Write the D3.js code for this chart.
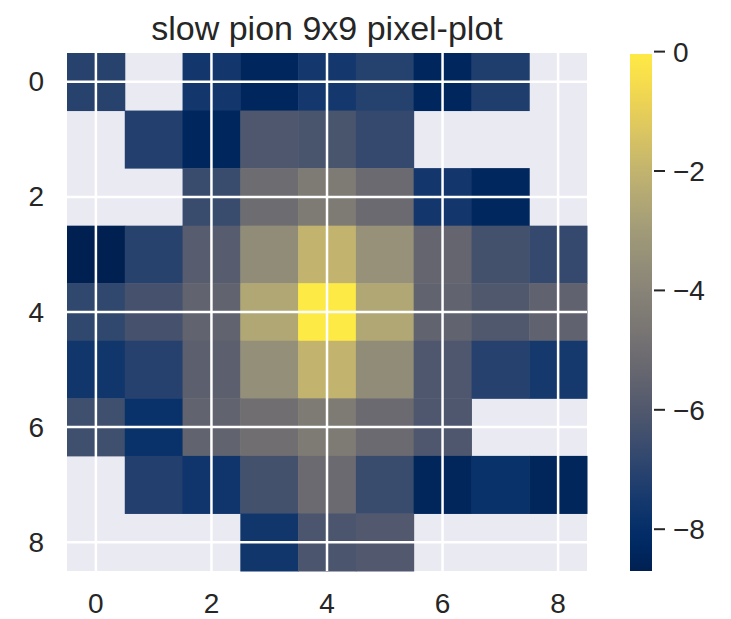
<!DOCTYPE html>
<html>
<head>
<meta charset="utf-8">
<script src="https://cdn.jsdelivr.net/npm/d3@7"></script>
<style>
  body { margin: 0; background: #fff; }
  text { font-family: "Liberation Sans", Arial, sans-serif; fill: #262626; }
</style>
</head>
<body>
<svg id="chart" width="731" height="619"></svg>
<script>
// log-scaled pixel values, null = empty pixel
var NaN_ = null;
var row0 = [-7.04, NaN_, -7.57, -8.40, -7.55, -7.12, -8.40, -7.25, NaN_];
var row1 = [NaN_, -7.19, -8.40, -6.06, -6.20, -6.71, NaN_, NaN_, NaN_];
var row2 = [NaN_, NaN_, -6.60, -5.08, -4.44, -5.17, -7.57, -8.38, NaN_];
var row3 = [-8.70, -7.04, -5.82, -3.64, -2.00, -3.43, -5.39, -6.34, -6.71];
var row4 = [-6.83, -6.28, -5.50, -2.52, -0.04, -2.52, -5.50, -6.00, -5.54];
var row5 = [-7.64, -7.09, -5.69, -3.50, -2.00, -3.64, -6.07, -7.09, -7.52];
var row6 = [-6.46, -7.85, -5.50, -4.98, -4.44, -5.17, -6.07, NaN_, NaN_];
var row7 = [NaN_, -7.19, -7.67, -6.36, -5.17, -6.58, -8.44, -7.83, -8.44];
var row8 = [NaN_, NaN_, NaN_, -7.64, -6.14, -5.96, NaN_, NaN_, NaN_];
var rows = [row0, row1, row2, row3, row4, row5, row6, row7, row8];

var pixelIdx = [0, 1, 2, 3, 4, 5, 6, 7, 8];
var axisTicks = [0, 2, 4, 6, 8];
var cbarTicks = [0, -2, -4, -6, -8];
var cbarRange = [-8.70, -0.04];
var title = "slow pion 9x9 pixel-plot";

var svg = d3.select("#chart");

var plot = {left: 67, top: 53, width: 520, height: 518};
var cbar = {left: 630, top: 54, width: 22, height: 517};

var x = d3.scaleBand().domain(pixelIdx).range([plot.left, plot.left + plot.width]).padding(0);
var y = d3.scaleBand().domain(pixelIdx).range([plot.top, plot.top + plot.height]).padding(0);
var color = d3.scaleSequential(d3.interpolateCividis).domain(cbarRange);

// axes background
svg.append("rect")
  .attr("x", plot.left).attr("y", plot.top)
  .attr("width", plot.width).attr("height", plot.height)
  .attr("fill", "#eaeaf2");

var cells = [];
rows.forEach(function(r, i) {
  r.forEach(function(v, j) { if (v !== null) cells.push({row: i, col: j, v: v}); });
});

svg.append("g")
  .selectAll("rect")
  .data(cells)
  .enter()
  .append("rect")
  .attr("x", d => x(d.col))
  .attr("y", d => y(d.row))
  .attr("width", x.bandwidth() + 0.5)
  .attr("height", y.bandwidth() + 0.5)
  .attr("fill", d => color(d.v));

// white grid lines through even pixel centres
var grid = svg.append("g").attr("stroke", "#fff").attr("stroke-width", 2.5);
grid.selectAll("line.v")
  .data(axisTicks).enter().append("line").attr("class", "v")
  .attr("x1", d => x(d) + x.bandwidth() / 2).attr("x2", d => x(d) + x.bandwidth() / 2)
  .attr("y1", plot.top).attr("y2", plot.top + plot.height);
grid.selectAll("line.h")
  .data(axisTicks).enter().append("line").attr("class", "h")
  .attr("y1", d => y(d) + y.bandwidth() / 2).attr("y2", d => y(d) + y.bandwidth() / 2)
  .attr("x1", plot.left).attr("x2", plot.left + plot.width);

// tick labels
svg.append("g").selectAll("text")
  .data(axisTicks).enter().append("text")
  .attr("x", 44)
  .attr("y", d => y(d) + y.bandwidth() / 2 + 9.5)
  .attr("text-anchor", "end")
  .style("font-size", "28px")
  .text(d => d);

svg.append("g").selectAll("text")
  .data(axisTicks).enter().append("text")
  .attr("x", d => x(d) + x.bandwidth() / 2)
  .attr("y", 613)
  .attr("text-anchor", "middle")
  .style("font-size", "28px")
  .text(d => d);

// title
svg.append("text")
  .attr("x", plot.left + plot.width / 2)
  .attr("y", 40)
  .attr("text-anchor", "middle")
  .style("font-size", "34px")
  .text(title);

// colorbar
var defs = svg.append("defs");
var grad = defs.append("linearGradient")
  .attr("id", "cbar-grad")
  .attr("x1", 0).attr("y1", 1).attr("x2", 0).attr("y2", 0);
d3.range(0, 1.0001, 0.02).forEach(function(t) {
  grad.append("stop")
    .attr("offset", t)
    .attr("stop-color", d3.interpolateCividis(t));
});

svg.append("rect")
  .attr("x", cbar.left).attr("y", cbar.top)
  .attr("width", cbar.width).attr("height", cbar.height)
  .attr("fill", "url(#cbar-grad)");

var cy = d3.scaleLinear().domain(cbarRange).range([cbar.top + cbar.height, cbar.top]);
var fmt = d => d < 0 ? "\u2212" + Math.abs(d) : String(d);

var cticks = svg.append("g").selectAll("g")
  .data(cbarTicks).enter().append("g")
  .attr("transform", d => "translate(0," + cy(d) + ")");
cticks.append("line")
  .attr("x1", cbar.left + cbar.width + 2).attr("x2", cbar.left + cbar.width + 13)
  .attr("stroke", "#262626").attr("stroke-width", 2);
cticks.append("text")
  .attr("x", 673)
  .attr("y", 10)
  .style("font-size", "28px")
  .text(fmt);
</script>
</body>
</html>
